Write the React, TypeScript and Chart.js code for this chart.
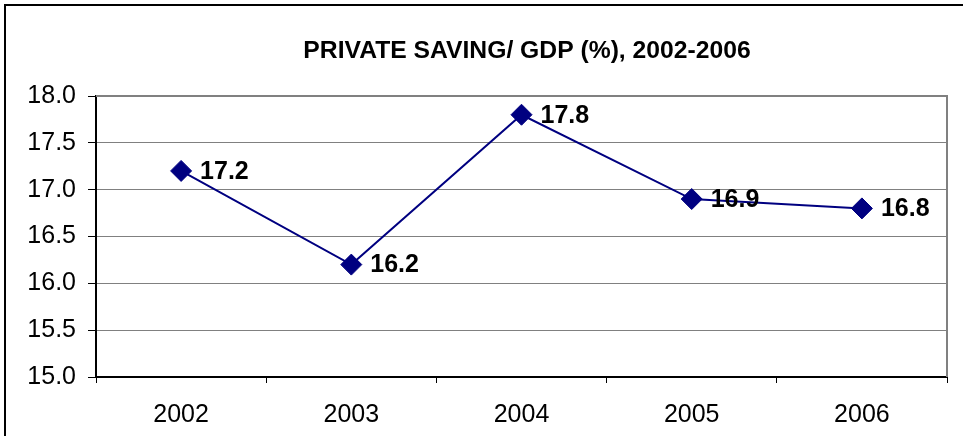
import React, { useEffect, useRef } from "react";
import { Chart, registerables } from "chart.js";

Chart.register(...registerables);

const categories = ["2002", "2003", "2004", "2005", "2006"];
const savingValues = [17.2, 16.2, 17.8, 16.9, 16.8];
const titleText = "PRIVATE SAVING/ GDP (%), 2002-2006";
const yMin = 15;
const yMax = 18;
const yStep = 0.5;

const FONT = '"Liberation Sans", Arial, sans-serif';

export default function App() {
  const ref = useRef<HTMLCanvasElement | null>(null);

  useEffect(() => {
    if (!ref.current) return;

    const framePlugin = {
      id: "frame",
      beforeDraw(chart: any) {
        const ctx = chart.ctx;
        ctx.save();
        ctx.fillStyle = "#fff";
        ctx.fillRect(0, 0, chart.width, chart.height);
        ctx.strokeStyle = "#000";
        ctx.lineWidth = 2;
        ctx.beginPath();
        ctx.moveTo(5, 440);
        ctx.lineTo(5, 5);
        ctx.lineTo(970, 5);
        ctx.stroke();
        ctx.font = `bold 24.7px ${FONT}`;
        ctx.fillStyle = "#000";
        ctx.textAlign = "center";
        ctx.textBaseline = "middle";
        ctx.fillText(titleText, 527, 51);
        ctx.restore();
      },
      beforeDatasetsDraw(chart: any) {
        const { ctx, chartArea } = chart;
        ctx.save();
        ctx.strokeStyle = "#808080";
        ctx.lineWidth = 2;
        ctx.beginPath();
        ctx.moveTo(chartArea.left, chartArea.top);
        ctx.lineTo(chartArea.right, chartArea.top);
        ctx.lineTo(chartArea.right, chartArea.bottom);
        ctx.stroke();
        ctx.restore();
      },
      afterDatasetsDraw(chart: any) {
        const { ctx } = chart;
        const meta = chart.getDatasetMeta(0);
        ctx.save();
        ctx.font = `bold 25px ${FONT}`;
        ctx.fillStyle = "#000";
        ctx.textAlign = "left";
        ctx.textBaseline = "middle";
        meta.data.forEach((pt: any, i: number) => {
          ctx.fillText(savingValues[i].toFixed(1), pt.x + 19, pt.y + 1);
        });
        ctx.restore();
      },
    };

    const chart = new Chart(ref.current, {
      type: "line",
      data: {
        labels: categories,
        datasets: [
          {
            data: savingValues,
            borderColor: "#000080",
            backgroundColor: "#000080",
            borderWidth: 2,
            pointStyle: "rectRot",
            pointRadius: 10.5,
            pointBorderWidth: 1,
            pointBackgroundColor: "#000080",
            pointBorderColor: "#000080",
            tension: 0,
          },
        ],
      },
      options: {
        responsive: false,
        animation: false,
        layout: { padding: { top: 96, left: 0, right: 16, bottom: 0 } },
        plugins: {
          legend: { display: false },
          title: { display: false },
          tooltip: { enabled: false },
        },
        scales: {
          x: {
            type: "category",
            offset: true,
            grid: {
              drawOnChartArea: false,
              drawTicks: true,
              tickLength: 6,
              tickColor: "#000",
              offset: true,
              lineWidth: 1,
            },
            border: { color: "#000", width: 2 },
            ticks: {
              color: "#000",
              font: { family: FONT, size: 25 },
              padding: 17,
              maxRotation: 0,
            },
            afterFit(scale: any) {
              scale.height = 59;
            },
          },
          y: {
            min: yMin,
            max: yMax,
            grid: {
              color: "#808080",
              lineWidth: 1,
              tickLength: 8,
              tickColor: "#000",
            },
            border: { color: "#000", width: 2 },
            ticks: {
              stepSize: yStep,
              color: "#000",
              font: { family: FONT, size: 25 },
              padding: 12,
              callback: (v: any) => Number(v).toFixed(1),
            },
            afterFit(scale: any) {
              scale.width = 96;
            },
          },
        },
      },
      plugins: [framePlugin],
    });

    return () => chart.destroy();
  }, []);

  return (
    <div style={{ position: "fixed", left: 0, top: 0, width: 963, height: 436, overflow: "hidden", background: "#fff" }}>
      <canvas ref={ref} width={963} height={436} style={{ display: "block" }} />
    </div>
  );
}
